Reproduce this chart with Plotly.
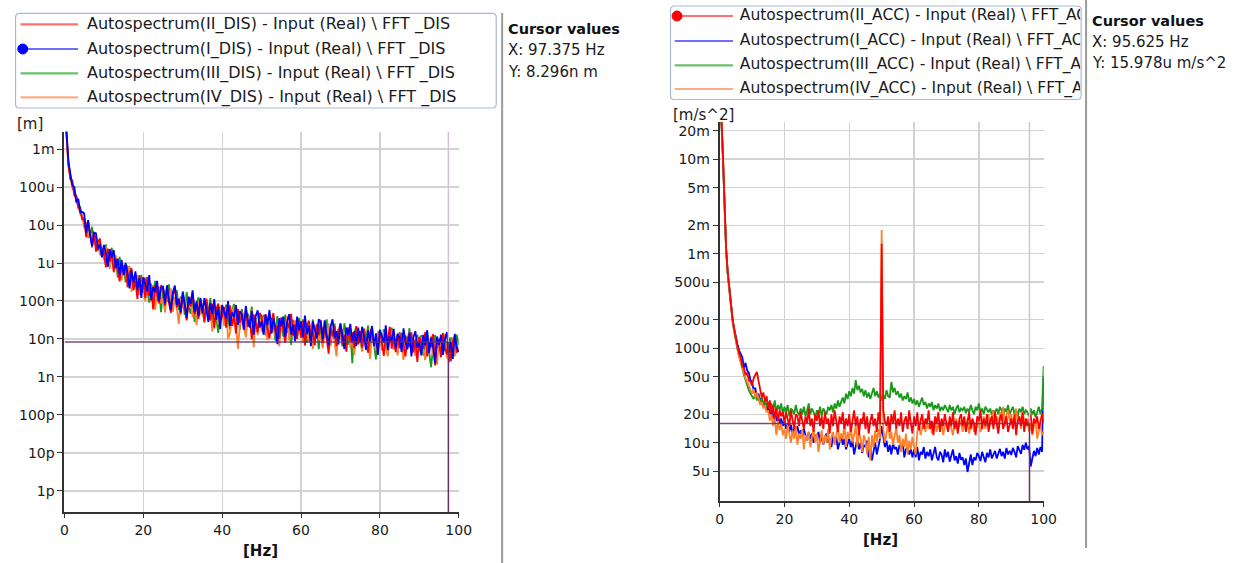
import numpy as np
import plotly.graph_objects as go

W, H = 1250, 563
FONT = "DejaVu Sans"

# ---------------- data: left chart (displacement autospectra, values in nm) -------------
dis_II_nm = [
    4.8e6, 2.8e6, 3.8e5, 1.6e5, 1.3e5, 6.0e4, 5.5e4, 2.8e4, 2.6e4, 1.4e4,
    1.4e4, 4.8e3, 1.2e4, 5.1e3, 3.0e3, 6.3e3, 2.0e3, 3.6e3, 4.4e3, 1.5e3,
    1.9e3, 770, 2.4e3, 1.1e3, 2.0e3, 570, 1.3e3, 640, 330, 1.0e3,
    530, 900, 230, 530, 740, 200, 340, 114, 480, 200,
    320, 120, 430, 136, 217, 60, 260, 153, 87, 260,
    210, 75, 225, 91, 49, 146, 223, 68, 102, 45,
    154, 74, 31, 113, 72, 168, 44, 84, 34, 104,
    71, 29, 116, 48, 31, 84, 19, 61, 86, 31,
    39, 70, 20, 51, 76, 22, 40, 14, 61, 27,
    45, 17, 64, 21, 34, 9.7, 44, 27, 15, 48,
    40, 14.5, 45, 18.6, 10.3, 31, 48, 15, 23, 10.3,
    37, 18, 8, 29, 19.5, 46, 12.4, 24, 10, 31,
    10.8, 30, 6.8, 21.7, 30.6, 11, 15.5, 6.9, 24, 12.4,
    32, 7.8, 19.5, 10.2, 4.1, 20, 11.8, 21.6, 6.4, 16.2,
    24.7, 7.2, 13, 4.6, 20, 8.7, 15, 5.8, 21.8, 7.2,
    16, 6, 18.7, 7.8, 4.4, 13.4, 21, 6.6, 10.3, 4.7,
    17, 8.4, 3.6, 13.4, 8.8, 21, 5.6, 10.9, 4.5, 14,
    5.7, 14.4, 7.9, 3.5, 11.6, 6.1, 15, 4.4, 9.5, 2.5,
    11.4, 7.8, 5.5, 15.2, 3.5, 8.2, 6.1, 13.4, 2.0, 9.3,
    8, 3.3, 13.8, 5.9, 3.9, 11, 2.6, 8.4, 12.2, 4.6,
    5,
]
dis_I_nm = [
    5.0e6, 3.2e6, 4.6e5, 2.5e5, 1.1e5, 1.0e5, 4.0e4, 4.9e4, 2.2e4, 2.2e4,
    2.0e4, 6.3e3, 1.35e4, 5.3e3, 2.75e3, 6.3e3, 6.0e3, 2.3e3, 3.1e3, 1.4e3,
    3.0e3, 1.8e3, 800, 2.3e3, 1.4e3, 2.2e3, 720, 1.3e3, 480, 1.2e3,
    480, 1.0e3, 530, 215, 640, 310, 600, 200, 400, 120,
    420, 275, 180, 480, 105, 235, 170, 340, 100, 225,
    240, 86, 260, 105, 58, 170, 255, 78, 116, 51,
    178, 85, 36, 130, 84, 190, 51, 97, 40, 120,
    48, 119, 64, 28, 89, 46, 112, 32, 69, 18,
    79, 53, 35, 100, 22, 51, 38, 78, 24, 54,
    45, 18, 74, 31, 20, 55, 13, 40, 57, 20,
    29, 13, 44, 23, 58, 14, 35, 19, 7.3, 35,
    21.5, 39, 11.5, 29, 45, 13, 24, 8.6, 39, 17,
    29, 11, 41, 13.5, 22, 6.5, 29, 17.6, 10.4, 33,
    27, 9.9, 31, 12.7, 7, 21, 33, 10.4, 16, 7.2,
    26, 12.6, 5.5, 20, 13, 25, 8.1, 15.9, 6.5, 20,
    8.2, 21, 11.4, 5.2, 16.8, 8.9, 22, 6.5, 14, 3.8,
    17.6, 11.9, 8, 23, 5.1, 11.8, 9, 18.5, 5.7, 13.2,
    11.2, 4.6, 19, 8.2, 5.3, 15, 3.5, 11.2, 16, 5.9,
    8.3, 3.7, 12.8, 6.8, 17, 4.3, 10.9, 5.9, 2.3, 11.6,
    7, 13, 3.8, 9.9, 15, 4.5, 8.2, 3, 13.6, 6,
    4.5,
]
dis_III_nm = [
    4.5e6, 2.6e6, 5.0e5, 1.7e5, 1.5e5, 6.8e4, 6.0e4, 3.2e4, 3.0e4, 1.45e4,
    1.55e4, 7.1e3, 1.2e4, 4.8e3, 9.0e3, 3.6e3, 5.2e3, 2.1e3, 3.6e3, 1.85e3,
    1.8e3, 3.1e3, 800, 1.8e3, 2.5e3, 660, 1.1e3, 420, 1.45e3, 560,
    870, 310, 850, 300, 470, 190, 510, 300, 168, 490,
    168, 410, 215, 91, 285, 144, 340, 97, 198, 51,
    221, 144, 94, 276, 58, 132, 95, 192, 58, 130,
    108, 43, 172, 71, 46, 124, 28, 88, 125, 45,
    62, 27, 93, 48, 119, 29, 71, 37, 14.4, 69,
    72, 26, 80, 33, 18, 55, 84, 26, 40, 17.5,
    61, 30, 12.8, 46.5, 30, 71, 19, 36, 15, 45,
    23, 43, 12.5, 32, 48, 14, 25, 9, 40, 17,
    30, 11.5, 44, 14.4, 24.6, 7, 32, 19.5, 11.7, 36,
    13.3, 33, 18, 7.9, 25.5, 13.3, 32.6, 9.6, 20.5, 5.4,
    24.5, 16.5, 11, 33, 7, 16.7, 12.3, 25.6, 8, 18.3,
    15.6, 6.4, 26, 10.9, 7.1, 19.6, 2.3, 14.4, 20.7, 7.5,
    10.6, 4.7, 16.6, 8.8, 22.4, 5.6, 14, 7.4, 2.9, 14.6,
    16, 5.9, 18.2, 7.5, 4.2, 12.7, 19.8, 6.2, 9.6, 4.3,
    15.3, 7.6, 3.3, 12.3, 8.1, 19.2, 5.1, 10.1, 4.2, 12.9,
    6.8, 12.6, 3.7, 9.4, 14.4, 4.3, 1.8, 6.5, 12.6, 5.6,
    9.8, 3.8, 14.5, 4.8, 8.2, 2.4, 10.9, 6.8, 4.1, 13,
    7,
]
dis_IV_nm = [
    4.2e6, 2.4e6, 3.6e5, 1.8e5, 9.0e4, 8.4e4, 4.0e4, 3.5e4, 1.9e4, 1.7e4,
    8.4e3, 1.2e4, 4.5e3, 6.6e3, 2.5e3, 5.0e3, 2.6e3, 3.9e3, 1.6e3, 2.5e3,
    1.2e3, 2.7e3, 1.36e3, 700, 1.6e3, 750, 1.6e3, 500, 880, 350,
    840, 530, 310, 840, 175, 360, 250, 480, 143, 310,
    245, 98, 385, 156, 97, 261, 58, 177, 243, 87,
    117, 50, 170, 86, 215, 52, 127, 65, 25, 119,
    69, 125, 35, 87, 129, 37, 67, 23, 101, 44,
    74, 28, 104, 34, 55, 15.6, 69, 42, 24.5, 74,
    61, 22, 67, 10, 15, 47, 71, 22, 5.5, 24,
    52, 25, 11, 40, 25.5, 59, 6, 31, 12.7, 38,
    15.6, 39, 21, 9.3, 31, 16, 39, 11.5, 24, 6.5,
    29, 20, 13.4, 40, 9.2, 20, 15.4, 31, 10, 23,
    19.4, 8, 32, 13.5, 8.7, 24, 5.5, 17.6, 25, 9.3,
    13, 5.7, 20, 10.4, 26, 6.5, 16.4, 8.6, 3.5, 16.8,
    10, 18.4, 5.3, 13.3, 20, 5.9, 10.6, 3.8, 16.7, 7.3,
    12.7, 4.9, 18.6, 6.2, 10.4, 3, 13.6, 8.4, 5, 15.5,
    13.6, 5, 15.4, 6.4, 3.5, 10.9, 16.8, 5.3, 8.2, 3.7,
    13, 6.5, 2.8, 10.5, 6.9, 16, 4.3, 8.6, 3.6, 11,
    4.5, 11.3, 6.2, 2.8, 9.2, 4.9, 12, 3.6, 7.7, 2.1,
    9.5, 6.5, 4.4, 13.4, 3.1, 7, 5.2, 10.9, 3.5, 8.2,
    4.5,
]

# ---------------- data: right chart (acceleration autospectra, values in u m/s^2) -------
acc_II_u = [
    42000, 30000, 11500, 3300, 1150, 640, 420, 280, 200, 160,
    125, 105, 88, 80, 64, 62, 52, 55, 46, 44,
    40, 48, 52, 56, 45, 38, 30, 34, 27, 31,
    23, 28, 20, 25, 18, 23, 17, 22, 19, 21,
    16, 21, 18, 15, 22, 17, 14, 20, 19, 15,
    21, 17, 14, 19, 16, 23, 15, 18, 13, 20,
    17, 22, 15, 19, 14, 21, 16, 18, 12.5, 20,
    15, 22, 17, 13, 19, 16, 21, 14, 18, 15,
    20, 13, 17, 22, 15, 19, 12, 18, 16, 21,
    14, 19, 12.5, 17, 20, 15, 18, 13, 21, 16,
    1270, 22, 17, 15, 19, 13, 20, 16, 22, 14,
    18, 15, 21, 13, 17, 19, 14, 22, 16, 12.5,
    19, 15, 21, 13.5, 17, 20, 14, 18, 16, 22,
    14, 17, 12, 19, 16, 21, 13, 18, 15, 20,
    16, 13, 19, 15, 21, 14, 17, 12.5, 18, 20,
    15, 19, 13, 17, 21, 14, 18, 16, 12, 19,
    17, 22, 14, 18, 15, 20, 13, 17, 19, 14,
    21, 16, 12.5, 18, 20, 14, 17, 19, 13, 16,
    18, 14, 20, 12, 17, 19, 15, 21, 13, 18,
    15, 17, 20, 12.5, 18, 16, 19, 14, 17, 20,
    16,
]
acc_I_u = [
    40000, 29000, 11000, 3250, 1120, 630, 410, 275, 205, 160,
    130, 110, 95, 85, 80, 62, 70, 58, 55, 46,
    44, 36, 38, 30, 33, 27, 30, 24, 26, 22,
    24, 20, 22, 18, 21, 17, 19.5, 16, 18, 15,
    17, 14, 16, 13, 15.5, 12.5, 14, 13, 15, 12,
    13.5, 11.5, 14, 12, 10.5, 13, 11, 12.5, 10, 12,
    11.5, 13, 10, 12, 9.5, 11.5, 12.5, 10, 11, 9,
    12, 10, 11.5, 8.5, 10.5, 12, 9.5, 11, 8.5, 10,
    11, 9, 10.5, 7.5, 9.5, 11, 8.5, 10, 7.8, 9.5,
    9, 10.5, 7, 9, 6.5, 8.5, 10, 7.5, 9, 11,
    15, 11, 9, 10.5, 8, 9.5, 7.5, 10, 8.5, 9,
    7.5, 9.5, 8.5, 10, 7, 8.5, 9, 7.5, 8.5, 7,
    8.5, 7, 9, 6.5, 8, 7.5, 9, 6.8, 8, 7.2,
    8.5, 6.5, 7.8, 9, 7, 6.5, 8, 7.5, 6.2, 8.5,
    7, 8, 6.3, 7.5, 8.5, 6.5, 7.2, 6, 7.8, 6.6,
    7, 5.8, 6.8, 4.9, 6.2, 7.5, 5.8, 7, 6.5, 7.8,
    7.2, 6.4, 8, 7, 6.2, 7.8, 7, 8.5, 6.8, 7.5,
    8.2, 6.8, 7.8, 8.6, 7.2, 8, 6.8, 8.8, 7.5, 8.2,
    7.4, 8.8, 8, 7, 9.2, 8.2, 7.6, 9.5, 8.4, 10,
    8.5, 9.2, 5.6, 6.8, 8.2, 7.2, 8.8, 7.5, 9, 8,
    50,
]
acc_III_u = [
    38000, 26000, 10500, 3100, 1080, 600, 390, 265, 190, 148,
    118, 98, 84, 70, 60, 52, 46, 40, 36, 33,
    31, 29, 33, 28, 31, 26, 30, 25, 28, 24,
    27, 23, 26, 22, 28, 21, 25, 22, 26, 20,
    24, 21, 25, 19, 23, 22, 20, 25, 21, 19.5,
    23, 20, 24, 19, 22, 26, 20, 23, 21, 18.5,
    22, 20, 24, 19, 23, 21, 20, 24, 22, 25,
    21, 26, 23, 28, 24, 27, 30, 26, 33, 29,
    35, 31, 38, 33, 46, 36, 40, 34, 37, 31,
    36, 30, 34, 29, 33, 38, 31, 35, 30, 33,
    28, 32, 29, 36, 31, 30, 44, 34, 38, 32,
    35, 30, 33, 28, 31, 29, 34, 27, 30, 26,
    29, 25, 28, 24, 27, 30, 25, 27, 23, 26,
    24, 27, 22, 25, 23, 26, 21.5, 24, 22, 25,
    23, 21, 25, 22, 24, 20, 23, 25, 21, 23,
    22, 24, 20.5, 23, 21, 25, 22, 20, 24, 22,
    26, 21, 23, 20, 24, 22, 21, 23, 19.5, 22,
    21, 23, 20, 24, 22, 19, 23, 21, 25, 20,
    22, 24, 20, 22.5, 19, 23, 21, 24, 20, 22,
    21, 19, 23, 20, 22, 18.5, 21, 24, 20, 23,
    65,
]
acc_IV_u = [
    41000, 29500, 11200, 3150, 1100, 610, 400, 270, 195, 152,
    120, 95, 80, 72, 62, 55, 48, 44, 40, 36,
    33, 37, 30, 34, 28, 25, 27, 23, 25, 21,
    22, 17, 20, 15, 19, 12, 17, 13.5, 16, 12,
    14, 11, 15.5, 12, 10, 13.5, 11, 15, 9.5, 12.5,
    11, 14, 8.5, 12, 10.5, 13, 9, 11.5, 14, 10,
    12.5, 8, 11, 13.5, 9.5, 12, 10, 14, 8.5, 11.5,
    13, 9.5, 12, 15, 10, 12.5, 11, 16, 9, 13,
    11, 14.5, 10, 12, 15, 9, 13, 11, 8, 12,
    10.5, 7.5, 11.5, 6.5, 12, 9, 13.5, 10, 14, 11,
    1780, 14, 10, 12.5, 16, 11, 13, 9.5, 12, 14.5,
    10, 12, 8, 11, 9, 12.5, 7.5, 10.5, 8.5, 11.5,
    9, 7.5, 13, 16, 12, 15, 17, 13, 16, 14,
    17, 12.5, 15.5, 18, 13, 16, 14, 17.5, 12, 15,
    16.5, 13, 17, 14.5, 12, 16, 18, 13.5, 15, 17,
    13, 16, 14, 18, 12.5, 15.5, 17, 13, 16, 14.5,
    17.5, 13, 15, 19, 14, 16.5, 20, 15, 18, 22,
    16, 19, 14.5, 21, 17, 24, 15, 19.5, 22, 17,
    20, 15.5, 18, 23, 16, 19, 14, 21, 17, 15,
    18, 13, 16.5, 12, 15, 17, 11, 14, 16, 12,
    13,
]

for arr in (dis_II_nm, dis_I_nm, dis_III_nm, dis_IV_nm, acc_II_u, acc_I_u, acc_III_u, acc_IV_u):
    assert len(arr) == 201, len(arr)

freq_hz = np.arange(201) * 0.5          # FFT lines, 0.5 Hz spacing, 0..100 Hz

x_ticks = [0, 20, 40, 60, 80, 100]
dis_tick_vals = [1e-3, 1e-4, 1e-5, 1e-6, 1e-7, 1e-8, 1e-9, 1e-10, 1e-11, 1e-12]
dis_tick_text = ["1m", "100u", "10u", "1u", "100n", "10n", "1n", "100p", "10p", "1p"]
acc_tick_vals = [20e-3, 10e-3, 5e-3, 2e-3, 1e-3, 500e-6, 200e-6, 100e-6, 50e-6, 20e-6, 10e-6, 5e-6]
acc_tick_text = ["20m", "10m", "5m", "2m", "1m", "500u", "200u", "100u", "50u", "20u", "10u", "5u"]

cursor_dis = (97.375, 8.296e-9)
cursor_acc = (95.625, 15.978e-6)

dis_names = ["Autospectrum(II_DIS) - Input (Real) \\ FFT _DIS",
             "Autospectrum(I_DIS) - Input (Real) \\ FFT _DIS",
             "Autospectrum(III_DIS) - Input (Real) \\ FFT _DIS",
             "Autospectrum(IV_DIS) - Input (Real) \\ FFT _DIS"]
acc_names = ["Autospectrum(II_ACC) - Input (Real) \\ FFT_ACC",
             "Autospectrum(I_ACC) - Input (Real) \\ FFT_ACC",
             "Autospectrum(III_ACC) - Input (Real) \\ FFT_ACC",
             "Autospectrum(IV_ACC) - Input (Real) \\ FFT_ACC"]

RED, BLUE, GREEN, ORANGE = "#ff0000", "#0000ff", "#1a991a", "#ff7f2a"
LEG_COLS = ["#ff7070", "#7070ff", "#6cbf6c", "#ffab8a"]
CUR_DARK, CUR_LIGHT = "#6a2c6a", "#d8bfd8"
LW = 1.8

def X(px):
    return px / W

def Y(py):
    return 1 - py / H

fig = go.Figure()

# left chart traces (blue on top)
for vals, col in ((dis_III_nm, GREEN), (dis_IV_nm, ORANGE), (dis_II_nm, RED), (dis_I_nm, BLUE)):
    fig.add_trace(go.Scatter(x=freq_hz, y=np.array(vals) * 1e-9, mode="lines",
                             line=dict(color=col, width=LW), xaxis="x", yaxis="y",
                             showlegend=False, hoverinfo="skip"))
# right chart traces (red on top)
for vals, col in ((acc_I_u, BLUE), (acc_III_u, GREEN), (acc_IV_u, ORANGE), (acc_II_u, RED)):
    fig.add_trace(go.Scatter(x=freq_hz, y=np.array(vals) * 1e-6, mode="lines",
                             line=dict(color=col, width=LW), xaxis="x2", yaxis="y2",
                             showlegend=False, hoverinfo="skip"))

# right legend text, clipped at the legend box edge like the reference
RLEG_X0, RLEG_X1, RLEG_Y0, RLEG_Y1 = 676.5, 1091, 6.5, 99
fig.add_trace(go.Scatter(x=[746] * 4, y=[16, 41, 65.3, 89], mode="text", text=acc_names,
                         textposition="middle right", cliponaxis=True,
                         textfont=dict(family=FONT, size=15.5, color="#1a1a1a"),
                         xaxis="x3", yaxis="y3", showlegend=False, hoverinfo="skip"))

tickfont = dict(family=FONT, size=14, color="#1a1a1a")
common_x = dict(range=[0, 100], tickvals=x_ticks, showgrid=True, gridcolor="#d2d2d2", gridwidth=1.3,
                showline=True, linecolor="#333333", linewidth=2, ticks="outside", ticklen=4,
                tickcolor="#333333", tickfont=tickfont, zeroline=False, fixedrange=True)
common_y = dict(type="log", showgrid=True, gridcolor="#d2d2d2", gridwidth=1.3, showline=True,
                linecolor="#333333", linewidth=2, ticks="outside", ticklen=5, tickcolor="#333333",
                tickfont=tickfont, zeroline=False, fixedrange=True)
hidden = dict(visible=False, showgrid=False, zeroline=False, fixedrange=True)

fig.update_layout(
    width=W, height=H, margin=dict(l=0, r=0, t=0, b=0),
    paper_bgcolor="white", plot_bgcolor="white", showlegend=False, hovermode=False,
    xaxis=dict(domain=[X(61.3), X(461)], anchor="y", **common_x),
    yaxis=dict(domain=[Y(512), Y(131.7)], anchor="x", range=[-12.554, -2.544],
               tickvals=dis_tick_vals, ticktext=dis_tick_text, **common_y),
    xaxis2=dict(domain=[X(725.5), X(1054)], anchor="y2", **common_x),
    yaxis2=dict(domain=[Y(501), Y(122)], anchor="x2", range=[-5.617, -1.607],
                tickvals=acc_tick_vals, ticktext=acc_tick_text, **common_y),
    xaxis3=dict(domain=[X(RLEG_X0), X(RLEG_X1)], anchor="y3", range=[RLEG_X0, RLEG_X1], **hidden),
    yaxis3=dict(domain=[Y(RLEG_Y1), Y(RLEG_Y0)], anchor="x3", range=[RLEG_Y1, RLEG_Y0], **hidden),
)

shapes = []
ann = []

# cursor lines
for (cx, cy), xr, yr, ytop in ((cursor_dis, "x", "y", 10 ** -2.544), (cursor_acc, "x2", "y2", 10 ** -1.607)):
    shapes.append(dict(type="line", xref=xr, yref=yr, x0=cx, x1=cx, y0=cy, y1=ytop,
                       line=dict(color=CUR_LIGHT, width=1.5)))
    shapes.append(dict(type="line", xref=xr, yref=yr, x0=cx, x1=cx, y0=cy, y1=1e-20,
                       line=dict(color=CUR_DARK, width=1.5)))
    shapes.append(dict(type="line", xref=xr, yref=yr, x0=0, x1=cx, y0=cy, y1=cy,
                       line=dict(color=CUR_DARK, width=1.5), opacity=0.85))

def rounded_box(x0, y0, x1, y1, r=4):
    rx, ry = r / W, r / H
    a0, a1 = X(x0), X(x1)
    b0, b1 = Y(y1), Y(y0)  # bottom, top in paper
    p = (f"M {a0+rx},{b1} L {a1-rx},{b1} Q {a1},{b1} {a1},{b1-ry} "
         f"L {a1},{b0+ry} Q {a1},{b0} {a1-rx},{b0} L {a0+rx},{b0} "
         f"Q {a0},{b0} {a0},{b0+ry} L {a0},{b1-ry} Q {a0},{b1} {a0+rx},{b1} Z")
    return dict(type="path", xref="paper", yref="paper", path=p,
                line=dict(color="#a9bad3", width=1.2), fillcolor="rgba(0,0,0,0)")

legfont = dict(family=FONT, size=16, color="#1a1a1a")

# left legend
shapes.append(rounded_box(11.7, 13.3, 499, 108))
for i, (yy, name) in enumerate(zip([24.3, 49, 73.3, 97.3], dis_names)):
    shapes.append(dict(type="line", xref="paper", yref="paper", x0=X(16.7), x1=X(75), y0=Y(yy), y1=Y(yy),
                       line=dict(color=LEG_COLS[i], width=2.2)))
    ann.append(dict(x=X(82.3), y=Y(yy), xref="paper", yref="paper", text=name, showarrow=False,
                    xanchor="left", yanchor="middle", font=legfont))
shapes.append(dict(type="circle", xref="paper", yref="paper", x0=X(14), x1=X(24), y0=Y(54), y1=Y(44),
                   fillcolor="#0000ff", line=dict(color="#0000ff", width=1)))

# right legend (box, samples, marker)
shapes.append(rounded_box(675.7, 6, 1092, 99.5))
for i, yy in enumerate([16, 41, 65.3, 89]):
    shapes.append(dict(type="line", xref="paper", yref="paper", x0=X(680), x1=X(739), y0=Y(yy), y1=Y(yy),
                       line=dict(color=LEG_COLS[i], width=2.2)))
shapes.append(dict(type="circle", xref="paper", yref="paper", x0=X(677.3), x1=X(687.3), y0=Y(21), y1=Y(11),
                   fillcolor="#ff0000", line=dict(color="#ff0000", width=1)))

# separators
shapes.append(dict(type="line", xref="paper", yref="paper", x0=X(505), x1=X(505), y0=Y(13), y1=Y(563),
                   line=dict(color="#9a9a9a", width=2)))
shapes.append(dict(type="line", xref="paper", yref="paper", x0=X(1097), x1=X(1097), y0=Y(0), y1=Y(548),
                   line=dict(color="#9a9a9a", width=2)))

curfont = dict(family=FONT, size=15, color="#1a1a1a")
def cursor_block(x, ys, cx, cy_txt):
    ann.append(dict(x=X(x), y=Y(ys[0]), xref="paper", yref="paper", text="<b>Cursor values</b>",
                    showarrow=False, xanchor="left", yanchor="middle",
                    font=dict(family=FONT, size=14.5, color="#111111")))
    ann.append(dict(x=X(x), y=Y(ys[1]), xref="paper", yref="paper", text=f"X: {cx} Hz",
                    showarrow=False, xanchor="left", yanchor="middle", font=curfont))
    ann.append(dict(x=X(x), y=Y(ys[2]), xref="paper", yref="paper", text=f"Y: {cy_txt}",
                    showarrow=False, xanchor="left", yanchor="middle", font=curfont))

cursor_block(508.5, [29, 50, 72], cursor_dis[0], "8.296n m")
cursor_block(1101, [20.7, 42.3, 63.3], cursor_acc[0], "15.978u m/s^2")

# unit labels
unitfont = dict(family=FONT, size=15, color="#1a1a1a")
ann.append(dict(x=X(11), y=Y(124), xref="paper", yref="paper", text="[m]", showarrow=False,
                xanchor="left", yanchor="middle", font=unitfont))
ann.append(dict(x=X(676), y=Y(115), xref="paper", yref="paper", text="[m/s^2]", showarrow=False,
                xanchor="left", yanchor="middle", font=unitfont))
ann.append(dict(x=X(260), y=Y(551), xref="paper", yref="paper", text="<b>[Hz]</b>", showarrow=False,
                xanchor="center", yanchor="middle", font=dict(family=FONT, size=15, color="#111111")))
ann.append(dict(x=X(889), y=Y(540), xref="paper", yref="paper", text="<b>[Hz]</b>", showarrow=False,
                xanchor="center", yanchor="middle", font=dict(family=FONT, size=15, color="#111111")))

fig.update_layout(shapes=shapes, annotations=ann)
fig.write_html("out.html", config={"displayModeBar": False, "staticPlot": True},
               post_script="document.documentElement.style.overflow='hidden';"
                           "document.body.style.margin='0';document.body.style.overflow='hidden';")
